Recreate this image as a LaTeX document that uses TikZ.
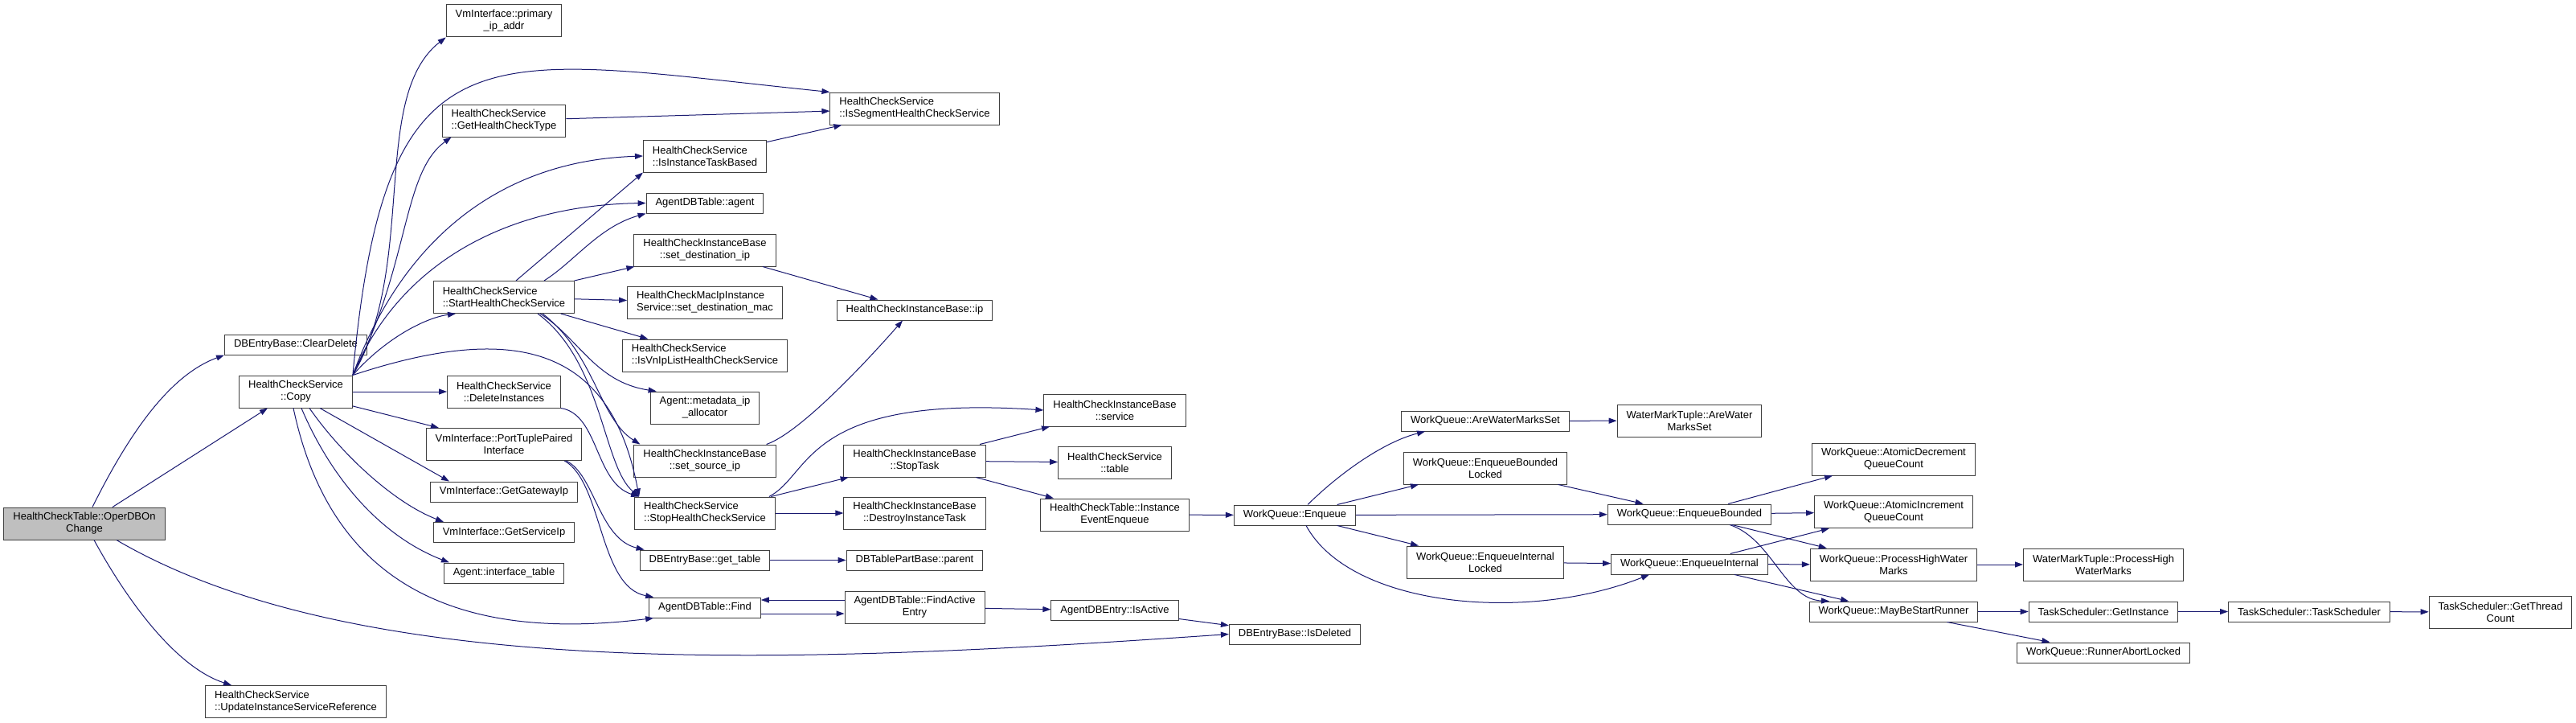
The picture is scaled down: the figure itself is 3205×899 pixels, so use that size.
\documentclass[tikz,border=0pt]{standalone}
\usepackage{fontspec}
\setmainfont{Liberation Sans}
\usetikzlibrary{arrows.meta}
\definecolor{edgeBlue}{HTML}{191970}
\definecolor{boxLine}{HTML}{404040}
\definecolor{rootFill}{HTML}{BFBFBF}

\begin{document}
\begin{tikzpicture}[
  x=1pt,y=1pt,
  fn/.style={draw=boxLine,fill=white,line width=1pt,inner xsep=11.5pt,inner ysep=2pt,minimum height=25pt,align=center,font=\fontsize{13}{15}\selectfont},
  two/.style={minimum height=40pt},
  lft/.style={align=left},
  call/.style={-{Triangle[length=10pt,width=7pt]},draw=edgeBlue,line width=1pt}
]
  \useasboundingbox (0,0) rectangle (3205,-899);

  \node[fn,two,fill=rootFill] (oper) at (105,-651) {HealthCheckTable::OperDBOn\\Change};

  \node[fn] (clrdel) at (368,-428.5) {DBEntryBase::ClearDelete};
  \node[fn,two] (copy) at (368,-487) {HealthCheckService\\::Copy};
  \node[fn,two,lft] (updref) at (368,-872.5) {HealthCheckService\\::UpdateInstanceServiceReference};

  \node[fn,two] (primip) at (627,-26) {VmInterface::primary\\\_ip\_addr};
  \node[fn,two,lft] (gettype) at (627,-150) {HealthCheckService\\::GetHealthCheckType};
  \node[fn,two,lft] (start) at (627,-369.5) {HealthCheckService\\::StartHealthCheckService};
  \node[fn,two] (delinst) at (627,-487) {HealthCheckService\\::DeleteInstances};
  \node[fn,two] (porttuple) at (627,-552.5) {VmInterface::PortTuplePaired\\Interface};
  \node[fn] (gwip) at (627,-611.5) {VmInterface::GetGatewayIp};
  \node[fn] (svcip) at (627,-662) {VmInterface::GetServiceIp};
  \node[fn] (intftbl) at (627,-712.5) {Agent::interface\_table};

  \node[fn,two,lft] (taskbased) at (877,-194) {HealthCheckService\\::IsInstanceTaskBased};
  \node[fn] (agent) at (877,-252.5) {AgentDBTable::agent};
  \node[fn,two] (dstip) at (877,-311) {HealthCheckInstanceBase\\::set\_destination\_ip};
  \node[fn,two,lft] (dstmac) at (877,-376) {HealthCheckMacIpInstance\\Service::set\_destination\_mac};
  \node[fn,two,lft] (vnip) at (877,-442) {HealthCheckService\\::IsVnIpListHealthCheckService};
  \node[fn,two] (mdalloc) at (877,-507) {Agent::metadata\_ip\\\_allocator};
  \node[fn,two] (srcip) at (877,-573) {HealthCheckInstanceBase\\::set\_source\_ip};
  \node[fn,two,lft] (stopsvc) at (877,-638) {HealthCheckService\\::StopHealthCheckService};
  \node[fn] (gettbl) at (877,-696.5) {DBEntryBase::get\_table};
  \node[fn] (find) at (877,-755.5) {AgentDBTable::Find};

  \node[fn,two,lft] (segsvc) at (1138,-135) {HealthCheckService\\::IsSegmentHealthCheckService};
  \node[fn] (ip) at (1138,-385.5) {HealthCheckInstanceBase::ip};
  \node[fn,two] (stoptask) at (1138,-573) {HealthCheckInstanceBase\\::StopTask};
  \node[fn,two] (destroy) at (1138,-638) {HealthCheckInstanceBase\\::DestroyInstanceTask};
  \node[fn] (parent) at (1138,-696.5) {DBTablePartBase::parent};
  \node[fn,two] (findact) at (1138,-755) {AgentDBTable::FindActive\\Entry};

  \node[fn,two] (service) at (1387,-510) {HealthCheckInstanceBase\\::service};
  \node[fn,two] (table) at (1387,-575) {HealthCheckService\\::table};
  \node[fn,two] (evtenq) at (1387,-640) {HealthCheckTable::Instance\\EventEnqueue};
  \node[fn] (isactive) at (1387,-759) {AgentDBEntry::IsActive};

  \node[fn] (enq) at (1611,-640.5) {WorkQueue::Enqueue};
  \node[fn] (isdel) at (1611,-788.5) {DBEntryBase::IsDeleted};

  \node[fn] (wmset) at (1848,-523.5) {WorkQueue::AreWaterMarksSet};
  \node[fn,two] (enqbl) at (1848,-582) {WorkQueue::EnqueueBounded\\Locked};
  \node[fn,two] (enqil) at (1848,-699) {WorkQueue::EnqueueInternal\\Locked};

  \node[fn,two] (wmtset) at (2102,-523) {WaterMarkTuple::AreWater\\MarksSet};
  \node[fn] (enqb) at (2102,-639.5) {WorkQueue::EnqueueBounded};
  \node[fn] (enqi) at (2102,-701.5) {WorkQueue::EnqueueInternal};

  \node[fn,two] (atdec) at (2356,-571) {WorkQueue::AtomicDecrement\\QueueCount};
  \node[fn,two] (atinc) at (2356,-636.5) {WorkQueue::AtomicIncrement\\QueueCount};
  \node[fn,two] (hwm) at (2356,-702) {WorkQueue::ProcessHighWater\\Marks};
  \node[fn] (runner) at (2356,-760.5) {WorkQueue::MayBeStartRunner};

  \node[fn,two] (wmthwm) at (2617,-702) {WaterMarkTuple::ProcessHigh\\WaterMarks};
  \node[fn] (getinst) at (2617,-760.5) {TaskScheduler::GetInstance};
  \node[fn] (abort) at (2617,-811.5) {WorkQueue::RunnerAbortLocked};

  \node[fn] (sched) at (2873,-760.5) {TaskScheduler::TaskScheduler};
  \node[fn,two] (thrcnt) at (3111,-761) {TaskScheduler::GetThread\\Count};

  \draw[call] ([xshift=10pt]oper.north) .. controls (165,-530) and (215,-465) .. (clrdel.south west);
  \draw[call] ([xshift=35pt]oper.north) -- ([xshift=-35pt]copy.south);
  \draw[call] ([xshift=12pt]oper.south) .. controls (160,-750) and (220,-830) .. ([xshift=-80pt]updref.north);
  \draw[call] ([xshift=40pt]oper.south) .. controls (450,-850) and (1000,-825) .. (isdel.west);

  \draw[call] (copy.north east) .. controls (520,-330) and (460,-120) .. (primip.south west);
  \draw[call] (copy.north east) .. controls (480,-20) and (600,-70) .. (segsvc.north west);
  \draw[call] (copy.north east) .. controls (510,-330) and (500,-215) .. ([xshift=12pt]gettype.south west);
  \draw[call] (copy.north east) .. controls (500,-300) and (620,-200) .. (taskbased.west);
  \draw[call] (copy.north east) .. controls (500,-320) and (640,-255) .. (agent.west);
  \draw[call] (copy.north east) .. controls (480,-420) and (530,-395) .. ([xshift=-60pt]start.south);
  \draw[call] (copy.north east) .. controls (640,-400) and (760,-430) .. ([xshift=6pt]stopsvc.north west);
  \draw[call] (copy) -- (delinst);
  \draw[call] (copy) -- (porttuple);
  \draw[call] ([xshift=30pt]copy.south) -- ([xshift=-68pt]gwip.north);
  \draw[call] ([xshift=17pt]copy.south) .. controls (425,-565) and (490,-625) .. ([xshift=-75pt]svcip.north);
  \draw[call] ([xshift=7pt]copy.south) .. controls (410,-590) and (470,-665) .. ([xshift=-68pt]intftbl.north);
  \draw[call] ([xshift=-3pt]copy.south) .. controls (410,-720) and (560,-800) .. ([xshift=6pt]find.south west);

  \draw[call] (gettype) -- (segsvc);
  \draw[call] ([xshift=15pt]start.north) -- (taskbased.south west);
  \draw[call] ([xshift=50pt]start.north) .. controls (715,-325) and (745,-282) .. (agent.south west);
  \draw[call] (start) -- (dstip);
  \draw[call] (start) -- (dstmac);
  \draw[call] (start) -- (vnip);
  \draw[call] ([xshift=45pt]start.south) .. controls (720,-420) and (740,-475) .. ([xshift=8pt]mdalloc.north west);
  \draw[call] ([xshift=48pt]start.south) .. controls (740,-440) and (745,-520) .. ([xshift=8pt]srcip.north west);
  \draw[call] ([xshift=42pt]start.south) .. controls (750,-450) and (750,-580) .. ([xshift=6pt]stopsvc.north west);
  \draw[call] (delinst.south east) .. controls (745,-515) and (740,-600) .. ([xshift=6pt]stopsvc.north west);
  \draw[call] ([xshift=-20pt]porttuple.south east) .. controls (740,-590) and (745,-670) .. ([xshift=6pt]gettbl.north west);
  \draw[call] ([xshift=-22pt]porttuple.south east) .. controls (750,-600) and (745,-730) .. ([xshift=6pt]find.north west);

  \draw[call] (taskbased) -- (segsvc);
  \draw[call] (dstip) -- (ip);
  \draw[call] ([xshift=-12pt]srcip.north east) .. controls (990,-540) and (1060,-470) .. ([xshift=-15pt]ip.south);
  \draw[call] ([xshift=-8pt]stopsvc.north east) .. controls (1010,-590) and (1000,-490) .. (service.west);
  \draw[call] (stopsvc) -- (stoptask);
  \draw[call] (stopsvc) -- (destroy);
  \draw[call] (gettbl) -- (parent);
  \draw[call] ([yshift=-7.5pt]find.east) -- ([yshift=-8pt]findact.west);
  \draw[call] ([yshift=9pt]findact.west) -- ([yshift=9.5pt]find.east);

  \draw[call] (stoptask) -- (service);
  \draw[call] (stoptask) -- (table);
  \draw[call] (stoptask) -- (evtenq);
  \draw[call] (findact) -- (isactive);

  \draw[call] (evtenq) -- (enq);
  \draw[call] (isactive) -- (isdel);
  \draw[call] ([xshift=16pt]enq.north) .. controls (1665,-590) and (1720,-550) .. ([xshift=-75pt]wmset.south);
  \draw[call] (enq) -- (enqbl);
  \draw[call] (enq) -- (enqb);
  \draw[call] (enq) -- (enqil);
  \draw[call] ([xshift=14pt]enq.south) .. controls (1680,-755) and (1900,-775) .. ([xshift=-50pt]enqi.south);

  \draw[call] (wmset) -- (wmtset);
  \draw[call] (enqbl) -- (enqb);
  \draw[call] (enqil) -- (enqi);

  \draw[call] (enqb) -- (atdec);
  \draw[call] (enqb) -- (atinc);
  \draw[call] (enqb) -- (hwm);
  \draw[call] ([xshift=50pt]enqb.south) .. controls (2205,-670) and (2220,-745) .. ([xshift=-80pt]runner.north);
  \draw[call] (enqi) -- (atinc);
  \draw[call] (enqi) -- (hwm);
  \draw[call] (enqi) -- (runner);

  \draw[call] (hwm) -- (wmthwm);
  \draw[call] (runner) -- (getinst);
  \draw[call] (runner) -- (abort);
  \draw[call] (getinst) -- (sched);
  \draw[call] (sched) -- (thrcnt);
\end{tikzpicture}
\end{document}
